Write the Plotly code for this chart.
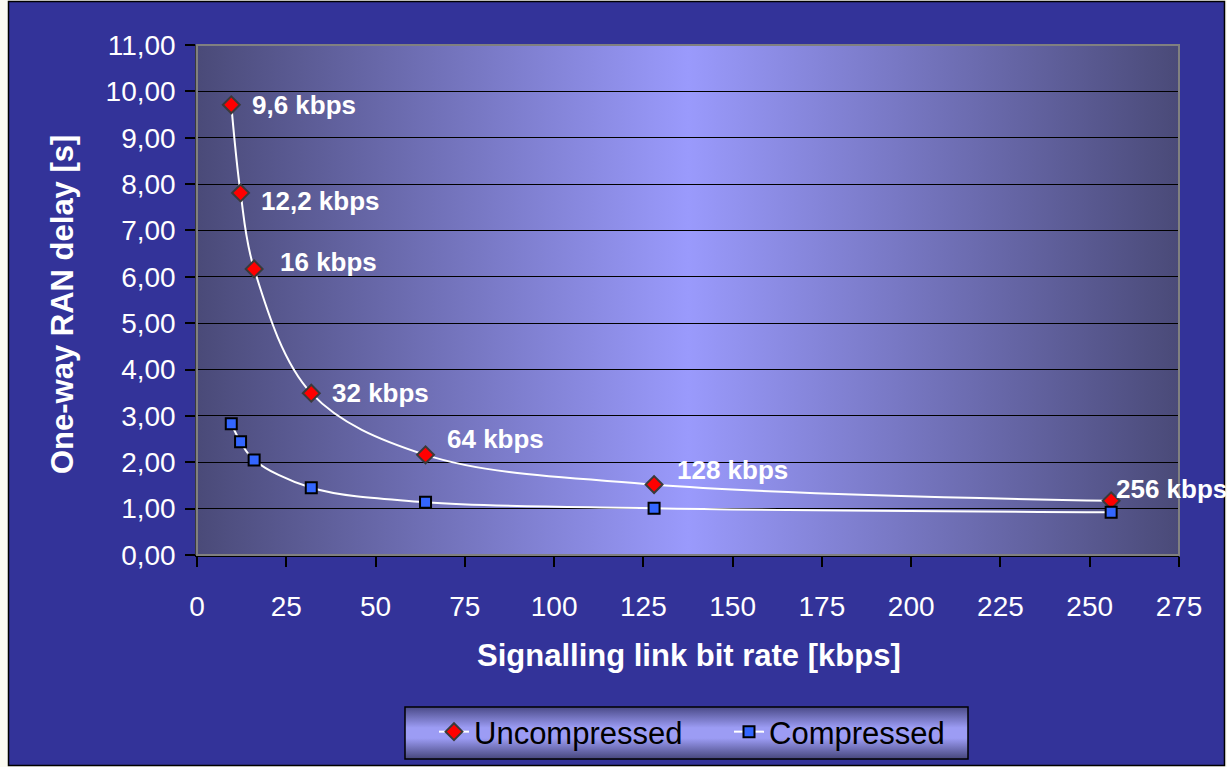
import base64
import plotly.graph_objects as go

# Signalling link bit rates [kbps] and one-way RAN delay [s]
bit_rates = [9.6, 12.2, 16, 32, 64, 128, 256]
delay_uncompressed = [9.71, 7.81, 6.17, 3.49, 2.16, 1.52, 1.17]
delay_compressed = [2.83, 2.44, 2.05, 1.45, 1.14, 1.01, 0.92]
rate_labels = ["9,6 kbps", "12,2 kbps", "16 kbps", "32 kbps", "64 kbps", "128 kbps", "256 kbps"]
label_offsets = [(19, 0), (18, -8), (24, 7), (19, 0), (19, 16), (21, 15), (3, 12)]

W, H = 1227, 767
L, R, T, B = 197, 48, 45, 212
PW, PH = W - L - R, H - T - B
FONT = "Arial, Liberation Sans, sans-serif"


def px(x):
    return (x - L) / PW


def py(y):
    return (H - B - y) / PH


def svg_gradient(stops, vertical):
    x2, y2 = ("0", "1") if vertical else ("1", "0")
    st = "".join(f'<stop offset="{o}" stop-color="{c}"/>' for o, c in stops)
    svg = (
        '<svg xmlns="http://www.w3.org/2000/svg" width="200" height="200" '
        'viewBox="0 0 200 200" preserveAspectRatio="none">'
        f'<defs><linearGradient id="g" x1="0" y1="0" x2="{x2}" y2="{y2}">{st}'
        '</linearGradient></defs><rect width="200" height="200" fill="url(#g)"/></svg>'
    )
    return "data:image/svg+xml;base64," + base64.b64encode(svg.encode()).decode()


plot_grad = svg_gradient([(0, "#4a4a78"), (0.5, "#9a9afc"), (1, "#4a4a78")], vertical=False)
legend_grad = svg_gradient(
    [(0, "#4a4a88"), (0.4, "#9c9cf4"), (0.6, "#9c9cf4"), (1, "#46467c")], vertical=True
)

fig = go.Figure()
fig.add_trace(go.Scatter(
    x=bit_rates, y=delay_uncompressed, name="Uncompressed",
    mode="lines+markers",
    line=dict(color="white", width=2, shape="spline", smoothing=1),
    marker=dict(symbol="diamond", size=13, color="#ff0000",
                line=dict(color="#3a3a3a", width=2)),
))
fig.add_trace(go.Scatter(
    x=bit_rates, y=delay_compressed, name="Compressed",
    mode="lines+markers",
    line=dict(color="white", width=2, shape="spline", smoothing=1),
    marker=dict(symbol="square", size=11, color="#3366ff",
                line=dict(color="#000000", width=2)),
))

annotations = []
for xv, yv, txt, (dx, dy) in zip(bit_rates, delay_uncompressed, rate_labels, label_offsets):
    annotations.append(dict(
        x=xv, y=yv, xref="x", yref="y", text=f"<b>{txt}</b>", showarrow=False,
        xanchor="left", yanchor="middle", xshift=dx, yshift=dy,
        font=dict(family=FONT, size=26, color="white"),
    ))
annotations.append(dict(
    x=px(689), y=py(655), xref="paper", yref="paper", showarrow=False,
    text="<b>Signalling link bit rate [kbps]</b>", xanchor="center", yanchor="middle",
    font=dict(family=FONT, size=31, color="white"),
))
annotations.append(dict(
    x=px(62), y=py(305), xref="paper", yref="paper", showarrow=False, textangle=-90,
    text="<b>One-way RAN delay [s]</b>", xanchor="center", yanchor="middle",
    font=dict(family=FONT, size=31, color="white"),
))

shapes = [
    # outer chart frame
    dict(type="rect", xref="paper", yref="paper", layer="below",
         x0=px(8.5), x1=px(1224.5), y0=py(765.5), y1=py(1.5),
         fillcolor="#333399", line=dict(color="#000000", width=1.5)),
    # plot area border
    dict(type="rect", xref="paper", yref="paper", layer="above",
         x0=0, x1=1, y0=0, y1=1, line=dict(color="#808080", width=2)),
    # legend box outline
    dict(type="rect", xref="paper", yref="paper", layer="above",
         x0=px(405), x1=px(968), y0=py(759), y1=py(707),
         line=dict(color="#000000", width=1.5)),
]

images = [
    dict(source=plot_grad, xref="x", yref="y", x=0, y=11, sizex=275, sizey=11,
         xanchor="left", yanchor="top", sizing="stretch", layer="below"),
    dict(source=legend_grad, xref="paper", yref="paper", x=px(405), y=py(707),
         sizex=563 / PW, sizey=52 / PH, xanchor="left", yanchor="top",
         sizing="stretch", layer="above"),
]

fig.update_layout(
    width=W, height=H,
    margin=dict(l=L, r=R, t=T, b=B, autoexpand=False),
    paper_bgcolor="#fbfbf2",
    plot_bgcolor="rgba(0,0,0,0)",
    separators=",.",
    font=dict(family=FONT, color="white"),
    showlegend=True,
    legend=dict(
        orientation="h", x=px(434), y=py(732), xanchor="left", yanchor="middle",
        bgcolor="rgba(0,0,0,0)", borderwidth=0,
        font=dict(family=FONT, size=31, color="black"),
        itemwidth=30, entrywidth=250, entrywidthmode="pixels",
    ),
    annotations=annotations,
    shapes=shapes,
    images=images,
)
fig.update_xaxes(
    range=[0, 275], dtick=25, tick0=0, showgrid=False, zeroline=False,
    showline=True, linecolor="#000000", linewidth=1.5, automargin=False,
    ticks="outside", ticklen=10, tickwidth=1.5, tickcolor="#000000",
    tickfont=dict(family=FONT, size=28, color="white"), ticklabelstandoff=16,
)
fig.update_yaxes(
    range=[0, 11], dtick=1, tick0=0, tickformat=".2f", automargin=False,
    showgrid=True, gridcolor="#000000", gridwidth=1, zeroline=False,
    showline=True, linecolor="#3a3a3a", linewidth=1.5,
    ticks="outside", ticklen=10, tickwidth=1.5, tickcolor="#000000",
    tickfont=dict(family=FONT, size=28, color="white"), ticklabelstandoff=4,
)

fig.write_html("out.html")
